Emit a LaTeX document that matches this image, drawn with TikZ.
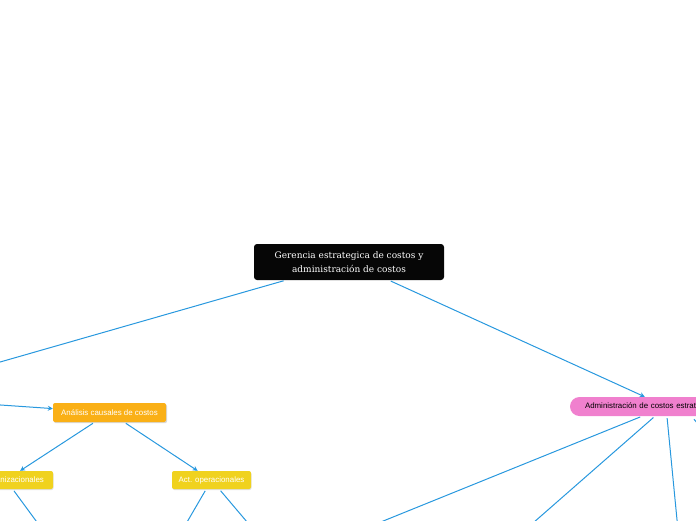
\documentclass[tikz,border=0pt]{standalone}
\usepackage{fontspec}
\setmainfont{Liberation Sans}
\newfontfamily\slabfont{DejaVu Serif}
\usepackage{tikz}
\usetikzlibrary{arrows.meta, shadows, calc}
\definecolor{linkblue}{RGB}{40,152,222}
\definecolor{rootblack}{RGB}{6,6,6}
\definecolor{causeorange}{RGB}{250,176,22}
\definecolor{actyellow}{RGB}{240,210,30}
\definecolor{adminpink}{RGB}{240,128,206}

\begin{document}
\begin{tikzpicture}[
    x=1pt, y=-1pt,
    every node/.style={rectangle, rounded corners=2pt, text centered, inner sep=0pt, font=\fontsize{7.9}{9}\selectfont},
    rootbox/.style={fill=rootblack, text=white, rounded corners=3pt, minimum width=190pt, minimum height=36pt, align=center, font=\slabfont\fontsize{9}{13.5}\selectfont},
    causebox/.style={fill=causeorange, text=white, minimum width=113pt, minimum height=19pt, drop shadow={shadow xshift=1pt, shadow yshift=-1.2pt, fill=black!25, opacity=0.6}},
    actbox/.style={fill=actyellow, text=white, minimum width=79pt, minimum height=18pt, drop shadow={shadow xshift=0.5pt, shadow yshift=-1pt, fill=black!20, opacity=0.6}},
    adminbox/.style={fill=adminpink, text=black, rounded corners=9.5pt, inner xsep=15pt, text width=162pt, align=left, minimum height=19pt},
    link/.style={draw=linkblue, line width=1pt, shorten <=2pt, -{Stealth[length=5pt, width=5pt]}}
]
    \useasboundingbox (0,0) rectangle (696,520);
    \clip (0,0) rectangle (696,520);

    % nodes
    \node[rootbox] (root) at (349,262) {Gerencia estrategica de costos y\\administración de costos};
    \node[adminbox] (admin) at (666,406.5) {Administración de costos estratégicos};
    \node[causebox] (causal) at (109.5,412.5) {Análisis causales de costos};
    \node[actbox, minimum width=94pt] (actorg) at (6,480) {Act. organizacionales};
    \node[actbox] (actop) at (211.5,480) {Act. operacionales};

    % ends outside the page
    \coordinate (leftbranch) at (-40,373.5);
    \coordinate (causalsrc) at (-40,402.2);
    \coordinate (orgchild) at (42,529);
    \coordinate (opchildA) at (183,529);
    \coordinate (opchildB) at (253,529);
    \coordinate (adminchildA) at (361,530);
    \coordinate (adminchildB) at (525,530);
    \coordinate (adminchildC) at (678,530);
    \coordinate (adminchildD) at (712,441);

    % connectors
    \draw[link] (root) -- (leftbranch);
    \draw[link] (root) -- (admin);
    \draw[link] (causalsrc) -- (causal);
    \draw[link] (causal) -- (actorg);
    \draw[link] (causal) -- (actop);
    \draw[link] (actorg) -- (orgchild);
    \draw[link] (actop) -- (opchildA);
    \draw[link] (actop) -- (opchildB);
    \draw[link] (admin) -- (adminchildA);
    \draw[link] (admin) -- (adminchildB);
    \draw[link] (admin) -- (adminchildC);
    \draw[link, shorten <=0pt] ($(admin.south)+(28,3)$) -- (adminchildD);

\end{tikzpicture}
\end{document}
